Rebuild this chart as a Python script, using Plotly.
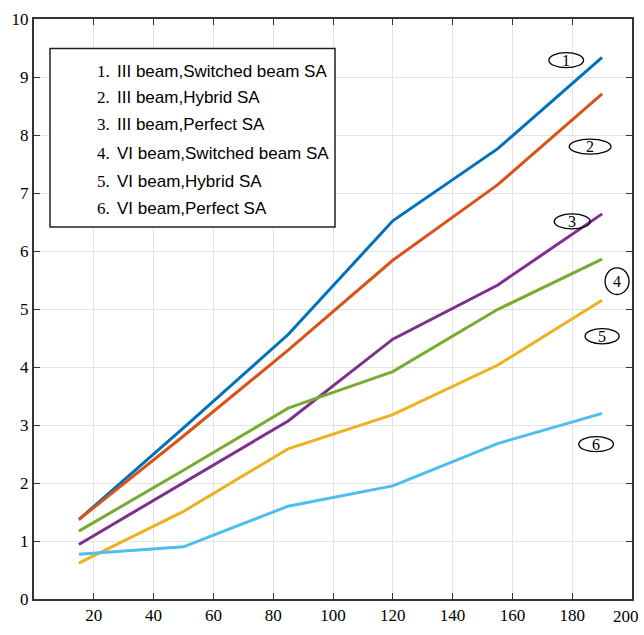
import plotly.graph_objects as go

x_vals = [15, 50, 85, 120, 155, 190]
s1 = [1.37, 2.95, 4.56, 6.52, 7.76, 9.34]
s2 = [1.37, 2.81, 4.29, 5.84, 7.14, 8.71]
s3 = [0.94, 2.00, 3.07, 4.48, 5.41, 6.64]
s4 = [1.17, 2.22, 3.29, 3.92, 4.99, 5.86]
s5 = [0.62, 1.51, 2.59, 3.18, 4.03, 5.15]
s6 = [0.77, 0.90, 1.60, 1.95, 2.68, 3.20]
names = ["III beam,Switched beam SA", "III beam,Hybrid SA", "III beam,Perfect SA",
         "VI beam,Switched beam SA", "VI beam,Hybrid SA", "VI beam,Perfect SA"]
colors = ["#0072BD", "#D95319", "#7E2F8E", "#77AC30", "#EDB120", "#4DBEEE"]
series = [s1, s2, s3, s4, s5, s6]
x_ticks = [20, 40, 60, 80, 100, 120, 140, 160, 180, 200]
x_ticktext = ["20", "40", "60", "80", "100", "120", "140", "160", "180", ""]
y_ticks = [0, 1, 2, 3, 4, 5, 6, 7, 8, 9, 10]

# circled label positions (data coords) and half-sizes
lab_x = [178, 186, 180, 195, 190, 188]
lab_y = [9.29, 7.80, 6.51, 5.48, 4.53, 2.67]
lab_w = [5.8, 7.0, 6.0, 4.0, 5.7, 5.8]
lab_h = [0.13, 0.13, 0.13, 0.23, 0.13, 0.13]

fig = go.Figure()
for i, s in enumerate(series):
    fig.add_trace(go.Scatter(x=x_vals, y=s, mode="lines", name=names[i],
                             line=dict(color=colors[i], width=3), showlegend=False))

shapes = []
annotations = []
for i in range(6):
    shapes.append(dict(type="circle", xref="x", yref="y",
                       x0=lab_x[i] - lab_w[i], x1=lab_x[i] + lab_w[i],
                       y0=lab_y[i] - lab_h[i], y1=lab_y[i] + lab_h[i],
                       line=dict(color="black", width=1.3)))
    annotations.append(dict(x=lab_x[i], y=lab_y[i], xref="x", yref="y", text=str(i + 1),
                            showarrow=False, font=dict(family="Liberation Serif", size=16, color="black")))

# legend-like box
shapes.append(dict(type="rect", xref="paper", yref="paper",
                   x0=(50 - 34) / 598, x1=(335 - 34) / 598,
                   y0=(601 - 222) / 591, y1=(601 - 40) / 591,
                   line=dict(color="#222222", width=1.5), fillcolor="white", layer="above"))
row_y = [63, 90, 118, 147, 176, 203]
for i in range(6):
    yp = (601 - row_y[i]) / 591
    annotations.append(dict(x=(95 - 34) / 598, y=yp, xref="paper", yref="paper",
                            xanchor="left", yanchor="middle", showarrow=False,
                            text=f"{i + 1}.", font=dict(family="Liberation Serif", size=17, color="black")))
    annotations.append(dict(x=(115 - 34) / 598, y=yp, xref="paper", yref="paper",
                            xanchor="left", yanchor="middle", showarrow=False,
                            text=names[i], font=dict(family="Liberation Sans", size=17, color="black")))

# last x tick label, nudged inside the window
annotations.append(dict(x=200, y=0, xref="x", yref="y", xanchor="center", yanchor="top",
                        xshift=-6, yshift=-6, showarrow=False, text="200",
                        font=dict(family="Liberation Serif", size=17, color="black")))

fig.update_layout(
    width=644, height=635,
    margin=dict(l=34, r=12, t=10, b=34),
    plot_bgcolor="white", paper_bgcolor="white",
    shapes=shapes, annotations=annotations,
    xaxis=dict(range=[0, 200], tickvals=x_ticks, ticktext=x_ticktext, ticks="inside", ticklen=6,
               tickcolor="#333", showline=True, linecolor="#333", linewidth=2, mirror="ticks",
               showgrid=True, gridcolor="#e3e3e3", gridwidth=1, zeroline=False,
               tickfont=dict(family="Liberation Serif", size=17, color="black")),
    yaxis=dict(range=[0, 10], tickvals=y_ticks, ticks="inside", ticklen=6, tickcolor="#333",
               showline=True, linecolor="#333", linewidth=2, mirror="ticks",
               showgrid=True, gridcolor="#e3e3e3", gridwidth=1, zeroline=False,
               tickfont=dict(family="Liberation Serif", size=17, color="black")),
)

fig.write_html("out.html", config={"displayModeBar": False},
               post_script="document.body.style.margin='0px';")
